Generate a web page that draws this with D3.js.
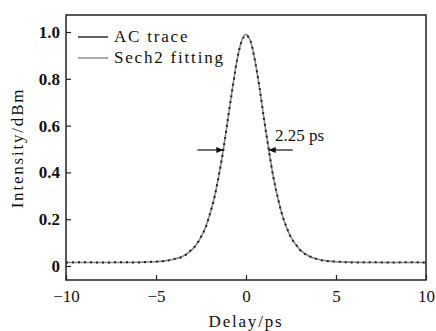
<!DOCTYPE html>
<html><head><meta charset="utf-8">
<script src="https://cdn.jsdelivr.net/npm/d3@7"></script>
<style>body{margin:0;background:#fff}svg{display:block}svg text{font-family:"Liberation Serif","Times New Roman",Times,serif}</style>
</head><body>
<svg id="c" width="436" height="331"></svg>
<script>
const delay = [-10,-9,-8,-7,-6,-5.5,-5,-4.5,-4,-3.5,-3,-2.75,-2.5,-2.25,-2,-1.75,-1.5,-1.25,-1,-0.75,-0.5,-0.25,0,0.25,0.5,0.75,1,1.25,1.5,1.75,2,2.25,2.5,2.75,3,3.5,4,4.5,5,5.5,6,7,8,9,10];
const fitValues = [0.015,0.015,0.015,0.015,0.016,0.017,0.018,0.022,0.029,0.042,0.070,0.093,0.123,0.165,0.222,0.296,0.389,0.503,0.630,0.761,0.878,0.960,0.990,0.960,0.878,0.761,0.630,0.503,0.389,0.296,0.222,0.165,0.123,0.093,0.070,0.042,0.029,0.022,0.018,0.017,0.016,0.015,0.015,0.015,0.015];
const acValues = [0.015,0.016,0.015,0.016,0.015,0.017,0.019,0.021,0.030,0.040,0.072,0.091,0.125,0.163,0.224,0.294,0.391,0.500,0.632,0.758,0.880,0.958,0.985,0.962,0.876,0.764,0.628,0.505,0.387,0.298,0.220,0.167,0.121,0.095,0.068,0.043,0.028,0.021,0.019,0.016,0.015,0.016,0.015,0.016,0.015];
const xTicks = [-10,-5,0,5,10];
const yTicks = [0,0.2,0.4,0.6,0.8,1.0];
const legendLabels = ["AC trace","Sech2 fitting"];

const svg = d3.select("#c");
const L=66,R=426,T=15,B=280;
const x = d3.scaleLinear().domain([-10,10]).range([L,R]);
const y = d3.scaleLinear().domain([0,1]).range([266,32]);

const line = d3.line().x((d,i)=>x(delay[i])).y(d=>y(d)).curve(d3.curveMonotoneX);

svg.append("path").datum(fitValues).attr("d",line)
  .attr("fill","none").attr("stroke","#888").attr("stroke-width",1.6);
svg.append("path").datum(acValues).attr("d",line)
  .attr("fill","none").attr("stroke","#222").attr("stroke-width",2)
  .attr("stroke-dasharray","2 4");

svg.append("rect").attr("x",L).attr("y",T).attr("width",R-L).attr("height",B-T)
  .attr("fill","none").attr("stroke","#222").attr("stroke-width",1.5);

const xa = svg.append("g").attr("transform",`translate(0,${B})`)
  .call(d3.axisBottom(x).tickValues(xTicks).tickSizeInner(-5).tickSizeOuter(0).tickPadding(10)
    .tickFormat(d=>d<0?"\u2212"+Math.abs(d):d));
xa.select(".domain").remove();
xa.selectAll("line").attr("stroke","#222").attr("stroke-width",1.2);
xa.selectAll("text").attr("font-size",17).attr("fill","#111");

const ya = svg.append("g").attr("transform",`translate(${L},0)`)
  .call(d3.axisLeft(y).tickValues(yTicks).tickSizeInner(-5).tickSizeOuter(0).tickPadding(6)
    .tickFormat(d=>d===0?"0":d3.format(".1f")(d)));
ya.select(".domain").remove();
ya.selectAll("line").attr("stroke","#222").attr("stroke-width",1.2);
ya.selectAll("text").attr("font-size",17).attr("font-weight","bold").attr("fill","#111");

svg.append("text").attr("x",246).attr("y",327).attr("text-anchor","middle")
  .attr("font-size",17).attr("letter-spacing",1.8).attr("fill","#111").text("Delay/ps");
svg.append("text").attr("transform","translate(23,148) rotate(-90)").attr("text-anchor","middle")
  .attr("font-size",17).attr("letter-spacing",1.8).attr("fill","#111").text("Intensity/dBm");

const lg = svg.append("g");
legendLabels.forEach((t,i)=>{
  const yy = 37 + i*21;
  lg.append("line").attr("x1",78).attr("x2",108).attr("y1",yy).attr("y2",yy)
    .attr("stroke",i===0?"#222":"#888").attr("stroke-width",1.4);
  lg.append("text").attr("x",114).attr("y",yy+5).attr("font-size",17)
    .attr("letter-spacing",1.8).attr("fill","#111").text(t);
});

const arrowY = 150;
svg.append("defs").append("marker").attr("id","ah").attr("viewBox","0 0 10 10")
  .attr("refX",10).attr("refY",5).attr("markerWidth",6).attr("markerHeight",6).attr("orient","auto")
  .append("path").attr("d","M0,1 L10,5 L0,9 Z").attr("fill","#111");
svg.append("line").attr("x1",x(-2.7)).attr("x2",x(-1.25)).attr("y1",arrowY).attr("y2",arrowY)
  .attr("stroke","#111").attr("stroke-width",1.2).attr("marker-end","url(#ah)");
svg.append("line").attr("x1",x(2.6)).attr("x2",x(1.25)).attr("y1",arrowY).attr("y2",arrowY)
  .attr("stroke","#111").attr("stroke-width",1.2).attr("marker-end","url(#ah)");
svg.append("text").attr("x",275).attr("y",141).attr("font-size",17)
  .attr("fill","#111").text("2.25 ps");
</script>
</body></html>
